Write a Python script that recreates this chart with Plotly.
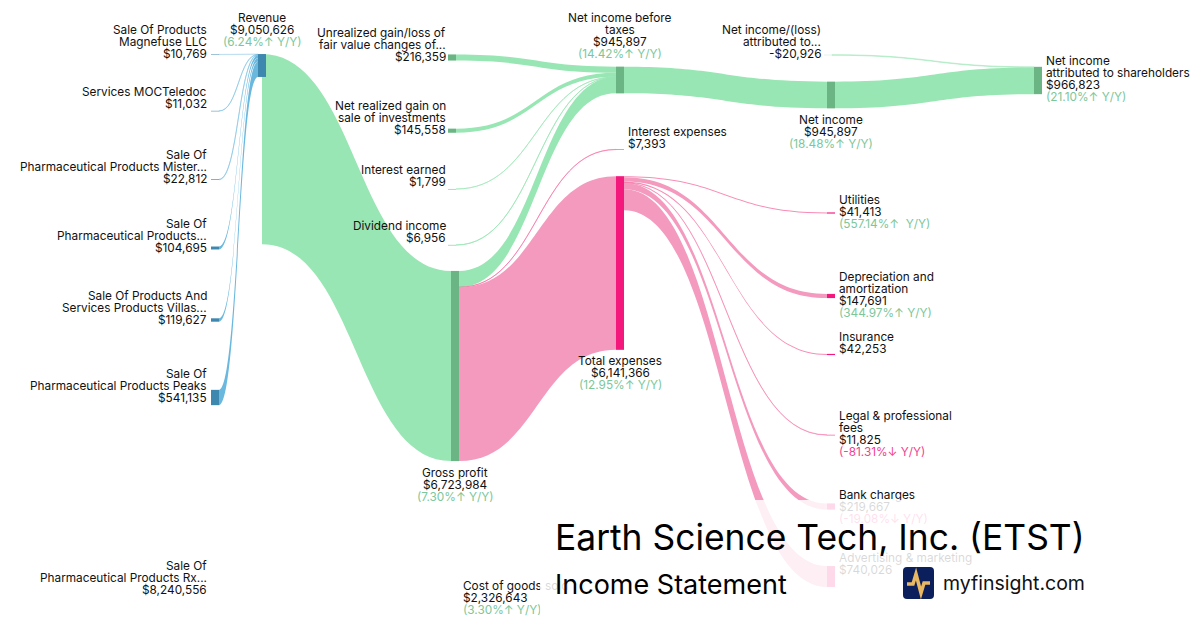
import plotly.graph_objects as go

W, H = 1200, 630

# --- data ---
segment_names = ["Magnefuse", "MOCTeledoc", "Mister", "Pharma", "Villas", "Peaks", "Rx"]
segment_values = [10769, 11032, 22812, 104695, 119627, 541135, 8240556]
other_income_values = [216359, 145558, 1799, 6956]
gross_profit = 6723984
cost_of_goods = 2326643
total_expenses = 6141366
interest_expense = 7393
net_income_pretax = 945897
net_income = 945897
minority = 20926
net_income_sh = 966823
expense_values = [41413, 147691, 42253, 11825, 219667, 740026]
# pretax income that comes out of gross profit, the rest is the other income
gp_to_pretax = 575225

# node order
(MAG, MOC, MIS, PHA, VIL, PEA, RX, REV, REV_OUT, GP, COGS, UNR, REA, INT, DIV,
 PRE, TOT, IEX, NI, MIN, NIS, UTL, DEP, INS, LEG, BNK, ADV) = range(27)

sources = [MAG, MOC, MIS, PHA, VIL, PEA, RX, REV_OUT, REV_OUT,
           UNR, REA, INT, DIV, GP, GP, GP,
           PRE, NI, MIN,
           TOT, TOT, TOT, TOT, TOT, TOT]
targets = [REV, REV, REV, REV, REV, REV, REV_OUT, GP, COGS,
           PRE, PRE, PRE, PRE, PRE, IEX, TOT,
           NI, NIS, NIS,
           UTL, DEP, INS, LEG, BNK, ADV]
values = segment_values[:6] + [segment_values[6], gross_profit, cost_of_goods] \
    + other_income_values + [gp_to_pretax, interest_expense, total_expenses] \
    + [net_income_pretax, net_income, minority] + expense_values

BLUE_N = "#3E87AE"
GREEN_N = "#6AB583"
PINK_N = "#F5187C"
NONE = "rgba(0,0,0,0)"
UP, DOWN = "#7CC79A", "#F5408F"

def blue(a=1):
    return f"rgba(106,184,222,{a})"

def green(a=1):
    return f"rgba(152,230,179,{a})"

def pink(a=1):
    return f"rgba(244,154,190,{a})"

# the hair thin links are paler in the reference
link_colors = [blue(0.25), blue(0.45), blue(0.45), blue(), blue(), blue(), NONE, green(), NONE,
               green(), green(), green(0.6), green(0.7), green(), "rgba(245,90,150,0.5)", pink(),
               green(), green(), green(0.5),
               "rgba(245,90,150,0.7)", pink(), "rgba(245,90,150,0.7)", "rgba(245,90,150,0.4)", pink(), pink()]
node_colors = [BLUE_N] * 6 + [NONE, BLUE_N, NONE, GREEN_N, NONE] + [GREEN_N] * 4 \
    + [GREEN_N, PINK_N, PINK_N, GREEN_N, green(0.5), GREEN_N] + [PINK_N] * 6

node_px = {MAG: (215, 54.5), MOC: (215, 111), MIS: (215, 179.5), PHA: (215, 248), VIL: (215, 320),
           PEA: (215, 397.5), RX: (215, 520), REV: (262, 65.5), REV_OUT: (258, 182), GP: (455, 366),
           COGS: (455, 600), UNR: (452, 57.5), REA: (452, 130.7), INT: (452, 189), DIV: (452, 245),
           PRE: (620, 80), TOT: (620, 263), IEX: (620, 149.5), NI: (831, 95), MIN: (828, 55),
           NIS: (1038, 80.5), UTL: (831, 213), DEP: (831, 296), INS: (831, 354.5), LEG: (831, 435),
           BNK: (831, 506.5), ADV: (831, 576.5)}
node_x = [node_px[i][0] / W for i in range(27)]
node_y = [node_px[i][1] / H for i in range(27)]

fig = go.Figure(go.Sankey(
    arrangement="fixed",
    domain=dict(x=[0, 1], y=[0, 1]),
    node=dict(pad=33, thickness=8, x=node_x, y=node_y, color=node_colors,
              line=dict(width=0), label=[""] * 27, hoverinfo="skip"),
    link=dict(source=sources, target=targets, value=values, color=link_colors, hoverinfo="skip"),
))

annots = []

def txt(x, y, s, anchor="left", color="#111111", size=11.8):
    annots.append(dict(x=x / W, y=1 - (y + 0.6) / H, xref="paper", yref="paper", text=s, showarrow=False,
                       xanchor=anchor, yanchor="middle", borderpad=0, borderwidth=0,
                       font=dict(family="Inter", size=size, color=color)))

def label(x, y, lines, anchor="left", change=None, change_color=UP):
    for i, s in enumerate(lines):
        txt(x, y + 12 * i, s, anchor)
    if change:
        txt(x, y + 12 * len(lines), change, anchor, change_color)

label(207, 29.7, ["Sale Of Products", "Magnefuse LLC", "$10,769"], "right")
label(207, 91.7, ["Services MOCTeledoc", "$11,032"], "right")
label(207, 154.7, ["Sale Of", "Pharmaceutical Products Mister...", "$22,812"], "right")
label(207, 223.7, ["Sale Of", "Pharmaceutical Products...", "$104,695"], "right")
label(207, 295.7, ["Sale Of Products And", "Services Products Villas...", "$119,627"], "right")
label(207, 373, ["Sale Of", "Pharmaceutical Products Peaks", "$541,135"], "right")
label(207, 565, ["Sale Of", "Pharmaceutical Products Rx...", "$8,240,556"], "right")
label(262, 17.7, ["Revenue", "$9,050,626"], "center", "(6.24%↑ Y/Y)")
label(445.5, 32.7, ["Unrealized gain/loss of", "fair value changes of...", "$216,359"], "right")
label(445.5, 105.7, ["Net realized gain on", "sale of investments", "$145,558"], "right")
label(445.5, 169.7, ["Interest earned", "$1,799"], "right")
label(445.5, 225.7, ["Dividend income", "$6,956"], "right")
label(455, 472, ["Gross profit", "$6,723,984"], "center", "(7.30%↑ Y/Y)")
label(463, 585.7, ["Cost of goods sold", "$2,326,643"], "left", "(3.30%↑ Y/Y)")
label(620, 17.7, ["Net income before", "taxes", "$945,897"], "center", "(14.42%↑ Y/Y)")
label(628, 131, ["Interest expenses", "$7,393"])
label(620, 360, ["Total expenses", "$6,141,366"], "center", "(12.95%↑ Y/Y)")
label(831, 119, ["Net income", "$945,897"], "center", "(18.48%↑ Y/Y)")
label(821, 29.7, ["Net income/(loss)", "attributed to...", "-$20,926"], "right")
label(1046, 60.7, ["Net income", "attributed to shareholders", "$966,823"], "left", "(21.10%↑ Y/Y)")
label(839, 199.7, ["Utilities", "$41,413"], "left", "(557.14%↑  Y/Y)")
label(839, 276.7, ["Depreciation and", "amortization", "$147,691"], "left", "(344.97%↑ Y/Y)")
label(839, 336, ["Insurance", "$42,253"])
label(839, 415.7, ["Legal & professional", "fees", "$11,825"], "left", "(-81.31%↓ Y/Y)", DOWN)
label(839, 494, ["Bank charges", "$219,667"], "left", "(-19.08%↓ Y/Y)", DOWN)
label(839, 557, ["Advertising & marketing", "$740,026"])

# white fade over the lower right corner, left open where the logo sits
for x0, y0, x1, y1 in [(540, 500, 1200, 565), (540, 565, 900, 630)]:
    annots.append(dict(x=x0 / W, y=1 - y0 / H, xref="paper", yref="paper", text=" ", showarrow=False,
                       xanchor="left", yanchor="top", width=x1 - x0, height=y1 - y0, borderpad=0,
                       borderwidth=0, bgcolor="rgba(255,255,255,0.84)"))

txt(555, 537, "Earth Science Tech, Inc. (ETST)", size=35.4, color="#000000")
txt(555, 584, "Income Statement", size=27, color="#000000")
txt(943, 582, "myfinsight.com", size=19.5, color="#111111")

def p(x, y):
    return f"{x / W},{1 - y / H}"

logo_box = ("M" + p(907, 567) + " L" + p(930, 567) + " Q" + p(934, 567) + " " + p(934, 571)
            + " L" + p(934, 595) + " Q" + p(934, 599) + " " + p(930, 599)
            + " L" + p(907, 599) + " Q" + p(903, 599) + " " + p(903, 595)
            + " L" + p(903, 571) + " Q" + p(903, 567) + " " + p(907, 567) + " Z")
logo_pulse = ("M" + p(907, 584) + " L" + p(913, 584) + " L" + p(916, 574)
              + " L" + p(921, 593) + " L" + p(924, 583) + " L" + p(930, 583))

fig.update_layout(
    width=W, height=H, margin=dict(l=0, r=0, t=0, b=0), paper_bgcolor="white",
    font=dict(family="Inter"), annotations=annots,
    shapes=[dict(type="path", path=logo_box, xref="paper", yref="paper", fillcolor="#0A1F5C", line_width=0),
            dict(type="path", path=logo_pulse, xref="paper", yref="paper",
                 line=dict(color="#E9B863", width=3.5))],
)
fig.write_html("out.html", post_script="document.body.style.margin='0';", config=dict(displayModeBar=False))
